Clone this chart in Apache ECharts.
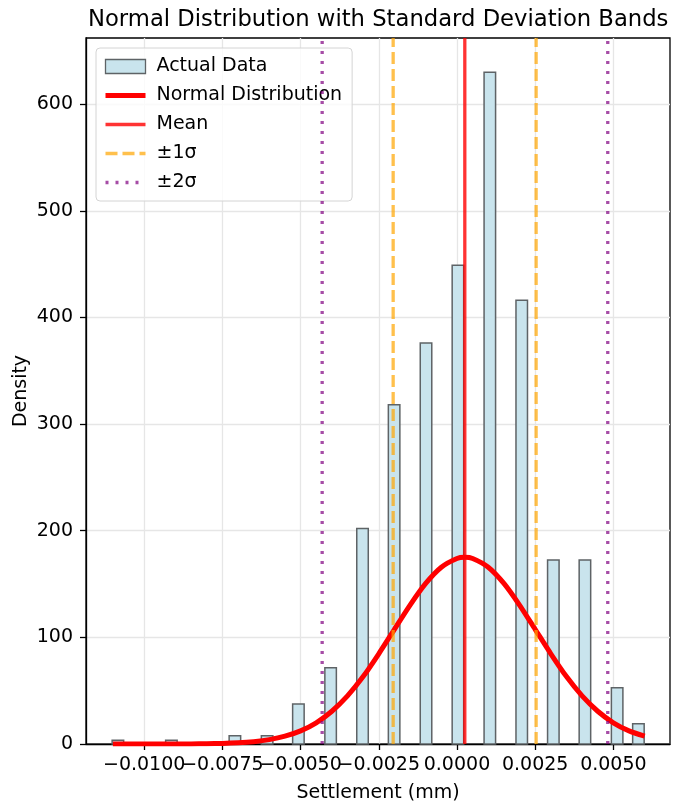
<!DOCTYPE html>
<html>
<head>
<meta charset="utf-8">
<script src="https://cdn.jsdelivr.net/npm/echarts@6/dist/echarts.min.js"></script>
<style>
  html, body { margin: 0; padding: 0; background: #fff; }
  #chart { width: 673px; height: 802px; }
</style>
</head>
<body>
<div id="chart"></div>
<script>
// histogram bars (bin centre, density)
const binCenters = [-0.01084, -0.00913, -0.00710, -0.00607, -0.00507, -0.00404, -0.00302, -0.00201,
  -0.00099, 0.00003, 0.00105, 0.00207, 0.00308, 0.00409, 0.00512, 0.00580]
const binDensity = [3.5, 3.5, 7.8, 7.8, 37.4, 71.6, 202, 318, 376, 449, 630, 416, 172.5, 172.5, 52.8, 19]

// fitted normal curve
const curveX = [-0.011, -0.0105, -0.01, -0.0095, -0.009, -0.0085, -0.008, -0.0075, -0.007, -0.0065,
  -0.006, -0.0055, -0.005, -0.0045, -0.004, -0.0035, -0.003, -0.0025, -0.002, -0.0015, -0.001,
  -0.0005, 0, 0.00025, 0.0005, 0.001, 0.0015, 0.002, 0.0025, 0.003, 0.0035, 0.004, 0.0045, 0.005,
  0.0055, 0.006]
const curveY = [0, 0, 0, 0, 0.05, 0.1, 0.25, 0.5, 1.1, 2.2, 4.1, 7.3, 12.3, 19.9, 30.7, 45.1, 63.2,
  84.6, 107.5, 130.3, 150.6, 165.8, 174, 175, 174, 165.8, 150.6, 130.3, 107.5, 84.6, 63.2, 45.1,
  30.7, 19.9, 12.3, 7.3]

const meanValue = 0.00025
const sigma1Lines = [-0.00204, 0.00253]
const sigma2Lines = [-0.00431, 0.00482]

const xTicks = [-0.01, -0.0075, -0.005, -0.0025, 0, 0.0025, 0.005]
// labels split over two axes so echarts doesn't drop the touching ones
const xLabelsA = [-0.01, -0.005, 0, 0.005]
const xLabelsB = [-0.0075, -0.0025, 0.0025]
const yTicks = [0, 100, 200, 300, 400, 500, 600]

const xMin = -0.01186
const xMax = 0.00681
const yMax = 662
const barWidth = 0.000368

const font = 'DejaVu Sans'

const chart = echarts.init(document.getElementById('chart'))

function vline(name, x, style) {
  return {
    name,
    type: 'line',
    data: [[x, 0], [x, yMax]],
    symbol: 'none',
    silent: true,
    lineStyle: style,
    itemStyle: { color: style.color },
    z: 4
  }
}

const curveStyle = { color: '#ff0000', width: 5 }
const meanStyle = { color: 'rgba(255,0,0,0.8)', width: 3.3 }
const sigma1Style = { color: 'rgba(255,165,0,0.7)', width: 3.3, type: [12, 5] }
const sigma2Style = { color: 'rgba(128,0,128,0.7)', width: 3.3, type: [3, 7] }

// hide the dot ECharts puts in the middle of a line legend icon
const noDot = { opacity: 0, borderWidth: 0 }

const tickLabel = {
  hideOverlap: false,
  margin: 12,
  fontFamily: font,
  fontSize: 19,
  color: '#000',
  formatter: v => v.toFixed(4).replace('-', '\u2212')
}

const option = {
  animation: false,
  title: {
    text: 'Normal Distribution with Standard Deviation Bands',
    left: 83,
    top: 4,
    textStyle: { fontFamily: font, fontSize: 22.7, fontWeight: 'normal', color: '#000' }
  },
  grid: {
    left: 86,
    right: 3,
    top: 38,
    bottom: 58,
    outerBoundsMode: 'none',
    show: true,
    borderColor: '#000',
    borderWidth: 1.3,
    backgroundColor: 'transparent'
  },
  legend: {
    orient: 'vertical',
    left: 96,
    top: 48,
    itemWidth: 40,
    itemHeight: 14,
    itemGap: 10,
    padding: [9, 10, 9, 7],
    backgroundColor: 'rgba(255,255,255,0.8)',
    borderColor: '#d4d4d4',
    borderWidth: 1,
    borderRadius: 4,
    textStyle: { fontFamily: font, fontSize: 19, color: '#000', padding: [0, 0, 0, 6] },
    data: [
      { name: 'Actual Data', icon: 'rect', itemStyle: { color: '#c9e4ed', borderColor: '#5e6366', borderWidth: 1.3 } },
      { name: 'Normal Distribution', itemStyle: noDot, lineStyle: curveStyle },
      { name: 'Mean', itemStyle: noDot, lineStyle: meanStyle },
      { name: '±1σ', itemStyle: noDot, lineStyle: sigma1Style },
      { name: '±2σ', itemStyle: noDot, lineStyle: sigma2Style }
    ]
  },
  xAxis: [
    {
      type: 'value',
      position: 'bottom',
      min: xMin,
      max: xMax,
      name: 'Settlement (mm)',
      nameLocation: 'middle',
      nameGap: 40,
      nameMoveOverlap: false,
      nameTextStyle: { fontFamily: font, fontSize: 19, color: '#000' },
      axisLine: { show: true, onZero: false, lineStyle: { color: '#000', width: 1.3 } },
      axisTick: { show: true, length: 6, customValues: xTicks, lineStyle: { color: '#000', width: 1.3 } },
      axisLabel: { ...tickLabel, customValues: xLabelsA },
      splitLine: { show: true, lineStyle: { color: '#e6e6e6', width: 1.3 } }
    },
    {
      type: 'value',
      position: 'bottom',
      offset: 0,
      min: xMin,
      max: xMax,
      axisLine: { show: false, onZero: false },
      axisTick: { show: false },
      axisLabel: { ...tickLabel, customValues: xLabelsB },
      splitLine: { show: false }
    }
  ],
  yAxis: {
    type: 'value',
    min: 0,
    max: yMax,
    name: 'Density',
    nameLocation: 'middle',
    nameGap: 55,
    nameMoveOverlap: false,
    nameTextStyle: { fontFamily: font, fontSize: 19, color: '#000' },
    axisLine: { show: true, onZero: false, lineStyle: { color: '#000', width: 1.3 } },
    axisTick: { show: true, length: 6, customValues: yTicks, lineStyle: { color: '#000', width: 1.3 } },
    axisLabel: { customValues: yTicks, margin: 13, fontFamily: font, fontSize: 19, color: '#000' },
    splitLine: { show: true, lineStyle: { color: '#e6e6e6', width: 1.3 } }
  },
  series: [
    {
      name: 'Actual Data',
      type: 'custom',
      data: binCenters.map((c, i) => [c, binDensity[i]]),
      encode: { x: 0, y: 1 },
      itemStyle: { color: '#c9e4ed', borderColor: '#5e6366' },
      z: 2,
      renderItem: (params, api) => {
        const c = api.value(0)
        const h = api.value(1)
        const p0 = api.coord([c - barWidth / 2, h])
        const p1 = api.coord([c + barWidth / 2, 0])
        return {
          type: 'rect',
          shape: { x: p0[0], y: p0[1], width: p1[0] - p0[0], height: p1[1] - p0[1] },
          style: { fill: '#c9e4ed', stroke: '#5e6366', lineWidth: 1.5 }
        }
      }
    },
    {
      name: 'Normal Distribution',
      type: 'line',
      data: curveX.map((x, i) => [x, curveY[i]]),
      symbol: 'none',
      smooth: 0.25,
      lineStyle: curveStyle,
      itemStyle: { color: '#ff0000' },
      z: 3
    },
    vline('Mean', meanValue, meanStyle),
    vline('±1σ', sigma1Lines[0], sigma1Style),
    vline('±1σ', sigma1Lines[1], sigma1Style),
    vline('±2σ', sigma2Lines[0], sigma2Style),
    vline('±2σ', sigma2Lines[1], sigma2Style)
  ]
}

chart.setOption(option)
</script>
</body>
</html>
